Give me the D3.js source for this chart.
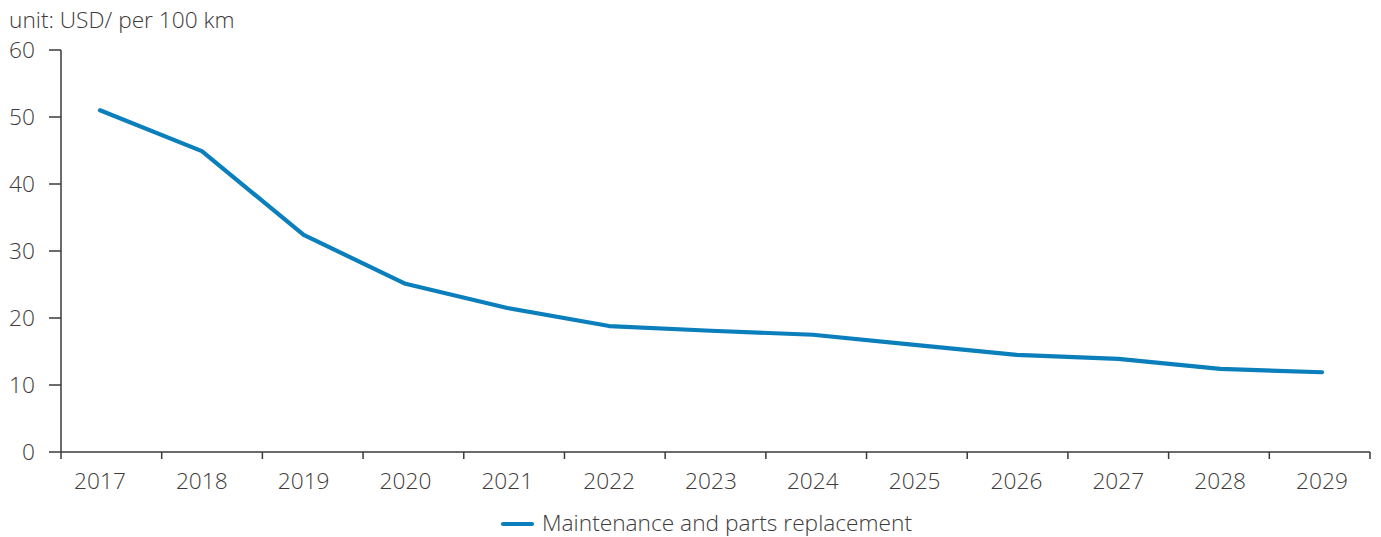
<!DOCTYPE html>
<html>
<head>
<meta charset="utf-8">
<script src="https://cdn.jsdelivr.net/npm/d3@7"></script>
<style>
    body { margin: 0; background: #fff; }
    svg text { font-family: "Open Sans", sans-serif; font-weight: 300; fill: #3d3a39; }
</style>
</head>
<body>
<svg id="chart" width="1381" height="537"></svg>
<script>
const years = ['2017', '2018', '2019', '2020', '2021', '2022', '2023', '2024', '2025', '2026', '2027', '2028', '2029'];
const maintenance = [51.0, 44.9, 32.4, 25.1, 21.5, 18.8, 18.1, 17.5, 16.0, 14.5, 13.9, 12.4, 11.9];
const yTicks = [0, 10, 20, 30, 40, 50, 60];
const unitLabel = 'unit: USD/ per 100 km';
const seriesName = 'Maintenance and parts replacement';

const lineColor = '#0a7fbb';
const axisColor = '#3d3a39';
const fontSize = 22.7;

const drawChart = function () {
    const svg = d3.select('#chart');

    const axisLeft = 61, axisRight = 1370;
    const axisBottom = 452;

    // band scale only for the tick marks between categories
    const xBand = d3.scaleBand().domain(years).range([axisLeft, axisRight]);
    // point scale for labels and the line itself
    const x = d3.scalePoint().domain(years).range([100, 1322]);
    const y = d3.scaleLinear().domain([0, 60]).range([axisBottom, 50]);

    // unit label
    svg.append('text')
        .attr('x', 9)
        .attr('y', 28)
        .attr('font-size', fontSize)
        .text(unitLabel);

    // y axis
    const yAxis = svg.append('g');
    yAxis.append('line')
        .attr('x1', axisLeft).attr('x2', axisLeft)
        .attr('y1', y(60)).attr('y2', axisBottom)
        .attr('stroke', axisColor).attr('stroke-width', 1.5);
    yAxis.selectAll('line.tick')
        .data(yTicks)
        .join('line')
        .attr('class', 'tick')
        .attr('x1', axisLeft - 12).attr('x2', axisLeft)
        .attr('y1', d => y(d)).attr('y2', d => y(d))
        .attr('stroke', axisColor).attr('stroke-width', 1.5);
    yAxis.selectAll('text')
        .data(yTicks)
        .join('text')
        .attr('x', 35)
        .attr('y', d => y(d))
        .attr('dy', '0.36em')
        .attr('text-anchor', 'end')
        .attr('font-size', fontSize)
        .text(d => d);

    // x axis
    const xAxis = svg.append('g');
    xAxis.append('line')
        .attr('x1', axisLeft).attr('x2', axisRight)
        .attr('y1', axisBottom).attr('y2', axisBottom)
        .attr('stroke', axisColor).attr('stroke-width', 1.5);
    const tickXs = years.map(d => xBand(d)).concat([axisRight]);
    xAxis.selectAll('line.tick')
        .data(tickXs)
        .join('line')
        .attr('class', 'tick')
        .attr('x1', d => d).attr('x2', d => d)
        .attr('y1', axisBottom).attr('y2', axisBottom + 7)
        .attr('stroke', axisColor).attr('stroke-width', 1.5);
    xAxis.selectAll('text')
        .data(years)
        .join('text')
        .attr('x', d => x(d))
        .attr('y', 489)
        .attr('text-anchor', 'middle')
        .attr('font-size', fontSize)
        .text(d => d);

    // series line
    const line = d3.line()
        .x((d, i) => x(years[i]))
        .y(d => y(d));
    svg.append('path')
        .datum(maintenance)
        .attr('fill', 'none')
        .attr('stroke', lineColor)
        .attr('stroke-width', 4.2)
        .attr('stroke-linejoin', 'round')
        .attr('stroke-linecap', 'round')
        .attr('d', line);

    // legend
    const legend = svg.append('g');
    legend.append('line')
        .attr('x1', 503).attr('x2', 532)
        .attr('y1', 524).attr('y2', 524)
        .attr('stroke', lineColor)
        .attr('stroke-width', 4.2)
        .attr('stroke-linecap', 'round');
    legend.append('text')
        .attr('x', 542)
        .attr('y', 531)
        .attr('font-size', fontSize)
        .text(seriesName);
}

drawChart();
</script>
</body>
</html>
